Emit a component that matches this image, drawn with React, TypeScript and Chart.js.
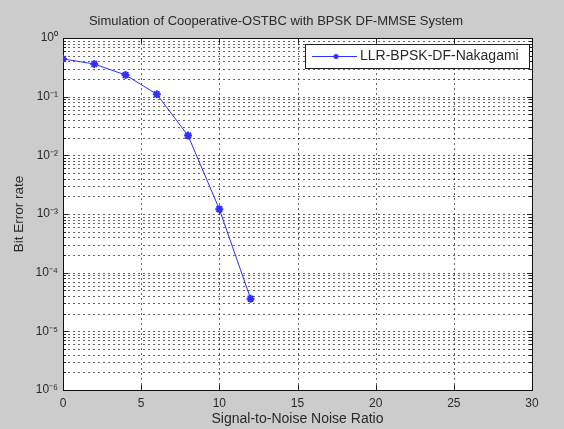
import React, { useEffect, useRef } from "react";
import { Chart, registerables } from "chart.js";

Chart.register(...registerables);

// Simulated BER curve (SNR in dB vs. bit error rate)
const snr = [0, 2, 4, 6, 8, 10, 12];
const berNakagami = [0.44, 0.36, 0.234, 0.11, 0.0217, 0.00121, 0.000036];
const seriesLabel = "LLR-BPSK-DF-Nakagami";
const xTicks = [0, 5, 10, 15, 20, 25, 30];
const decadeExponents = [0, -1, -2, -3, -4, -5, -6];
const titleText = "Simulation of Cooperative-OSTBC with BPSK DF-MMSE System";
const xTitle = "Signal-to-Noise Noise Ratio";
const yTitle = "Bit Error rate";

const SUP: Record<string, string> = {
  "0": "⁰", "1": "¹", "2": "²", "3": "³", "4": "⁴",
  "5": "⁵", "6": "⁶", "7": "⁷", "8": "⁸", "9": "⁹", "-": "⁻",
};
const pow10Label = (e: number) =>
  "10" + String(e).split("").map((c) => SUP[c] ?? c).join("");

const FONT = "'Liberation Sans', Arial, sans-serif";
const TEXT = "#2a2a2a";
const LINE_BLUE = "#2f2fff";
const FIGURE_GRAY = "#cccccc";

// Figure background, white axes box, dotted grid, inward ticks, frame, title and legend
const axesPlugin = {
  id: "axesBox",
  beforeDraw(chart: any) {
    const { ctx, chartArea: a, width, height } = chart;
    ctx.save();
    ctx.fillStyle = FIGURE_GRAY;
    ctx.fillRect(0, 0, width, height);
    ctx.fillStyle = "#ffffff";
    ctx.fillRect(a.left, a.top, a.right - a.left, a.bottom - a.top);
    ctx.fillStyle = TEXT;
    ctx.font = `13px ${FONT}`;
    ctx.textAlign = "center";
    ctx.textBaseline = "middle";
    ctx.fillText(titleText, 276, 21);
    ctx.restore();
  },
  beforeDatasetsDraw(chart: any) {
    const { ctx, chartArea: a, scales } = chart;
    const xs = scales.x;
    const ys = scales.y;
    ctx.save();
    ctx.lineWidth = 1;
    ctx.strokeStyle = "rgba(0,0,0,0.6)";
    ctx.setLineDash([2, 3]);
    // horizontal grid: every 1..9 x 10^k
    for (const e of decadeExponents) {
      if (e === 0) continue;
      for (let m = 1; m <= 9; m++) {
        const y = Math.round(ys.getPixelForValue(m * Math.pow(10, e))) + 0.5;
        ctx.beginPath();
        ctx.moveTo(a.left, y);
        ctx.lineTo(a.right, y);
        ctx.stroke();
      }
    }
    // vertical grid at major x ticks
    for (const v of xTicks) {
      if (v === xTicks[0] || v === xTicks[xTicks.length - 1]) continue;
      const x = Math.round(xs.getPixelForValue(v)) + 0.5;
      ctx.beginPath();
      ctx.moveTo(x, a.top);
      ctx.lineTo(x, a.bottom);
      ctx.stroke();
    }
    ctx.setLineDash([]);
    ctx.strokeStyle = "#222222";
    // inward tick marks
    for (const v of xTicks) {
      const x = Math.round(xs.getPixelForValue(v)) + 0.5;
      ctx.beginPath();
      ctx.moveTo(x, a.bottom);
      ctx.lineTo(x, a.bottom - 5);
      ctx.moveTo(x, a.top);
      ctx.lineTo(x, a.top + 5);
      ctx.stroke();
    }
    for (const e of decadeExponents) {
      for (let m = 1; m <= 9; m++) {
        if (e === 0 && m > 1) continue;
        const y = Math.round(ys.getPixelForValue(m * Math.pow(10, e))) + 0.5;
        const len = m === 1 ? 5 : 3;
        ctx.beginPath();
        ctx.moveTo(a.left, y);
        ctx.lineTo(a.left + len, y);
        ctx.moveTo(a.right, y);
        ctx.lineTo(a.right - len, y);
        ctx.stroke();
      }
    }
    ctx.strokeStyle = "#111111";
    ctx.strokeRect(
      Math.round(a.left) + 0.5,
      Math.round(a.top) + 0.5,
      Math.round(a.right - a.left),
      Math.round(a.bottom - a.top)
    );
    ctx.restore();
  },
  afterDraw(chart: any) {
    // legend box in the upper right corner of the axes
    const { ctx, chartArea: a } = chart;
    const ds = chart.data.datasets[0];
    const boxRight = a.right - 3;
    const boxLeft = boxRight - 224;
    const boxTop = a.top + 6;
    const boxH = 24;
    ctx.save();
    ctx.fillStyle = "#ffffff";
    ctx.fillRect(boxLeft, boxTop, boxRight - boxLeft, boxH);
    ctx.strokeStyle = "#222222";
    ctx.lineWidth = 1;
    ctx.strokeRect(boxLeft + 0.5, boxTop + 0.5, boxRight - boxLeft, boxH);
    const cy = boxTop + boxH / 2 + 0.5;
    ctx.strokeStyle = ds.borderColor;
    ctx.beginPath();
    ctx.moveTo(boxLeft + 7, cy);
    ctx.lineTo(boxLeft + 52, cy);
    ctx.stroke();
    ctx.fillStyle = ds.borderColor;
    ctx.beginPath();
    ctx.arc(boxLeft + 31, cy, 2.5, 0, Math.PI * 2);
    ctx.fill();
    ctx.fillStyle = TEXT;
    ctx.font = `14px ${FONT}`;
    ctx.textBaseline = "middle";
    ctx.textAlign = "left";
    ctx.fillText(ds.label, boxLeft + 55, cy);
    ctx.restore();
  },
};

export default function App() {
  const canvasRef = useRef<HTMLCanvasElement>(null);

  useEffect(() => {
    if (!canvasRef.current) return;
    const chart = new Chart(canvasRef.current, {
      type: "line",
      data: {
        datasets: [
          {
            label: seriesLabel,
            data: snr.map((x, i) => ({ x, y: berNakagami[i] })),
            borderColor: LINE_BLUE,
            backgroundColor: LINE_BLUE,
            borderWidth: 1,
            pointStyle: "star",
            pointRadius: 4,
            pointBorderWidth: 2,
            pointBorderColor: LINE_BLUE,
            tension: 0,
          },
        ],
      },
      options: {
        responsive: false,
        animation: false,
        layout: { padding: { left: 0, right: 32, top: 38, bottom: 0 } },
        plugins: {
          legend: { display: false },
          tooltip: { enabled: false },
          title: { display: false },
        },
        scales: {
          x: {
            type: "linear",
            min: 0,
            max: 30,
            afterBuildTicks: (s: any) => {
              s.ticks = xTicks.map((value) => ({ value }));
            },
            afterFit: (s: any) => {
              s.height = 39;
            },
            grid: { display: false, drawTicks: false },
            border: { display: false },
            ticks: {
              color: TEXT,
              font: { family: FONT, size: 12 },
              padding: 6,
              maxRotation: 0,
              autoSkip: false,
            },
            title: {
              display: true,
              text: xTitle,
              color: TEXT,
              font: { family: FONT, size: 14 },
              padding: { top: 0, bottom: 1 },
            },
          },
          y: {
            type: "logarithmic",
            min: 1e-6,
            max: 1,
            afterBuildTicks: (s: any) => {
              s.ticks = decadeExponents.map((e) => ({ value: Math.pow(10, e) }));
            },
            afterFit: (s: any) => {
              s.width = 63;
            },
            grid: { display: false, drawTicks: false },
            border: { display: false },
            ticks: {
              color: TEXT,
              font: { family: FONT, size: 12 },
              padding: 5,
              autoSkip: false,
              callback: (v: any) => pow10Label(Math.round(Math.log10(Number(v)))),
            },
            title: {
              display: true,
              text: yTitle,
              color: TEXT,
              font: { family: FONT, size: 13.5 },
              padding: { top: 11, bottom: 0 },
            },
          },
        },
      },
      plugins: [axesPlugin],
    });
    return () => chart.destroy();
  }, []);

  return (
    <div style={{ position: "fixed", left: 0, top: 0, width: 564, height: 429 }}>
      <canvas ref={canvasRef} width={564} height={429} style={{ display: "block" }} />
    </div>
  );
}
